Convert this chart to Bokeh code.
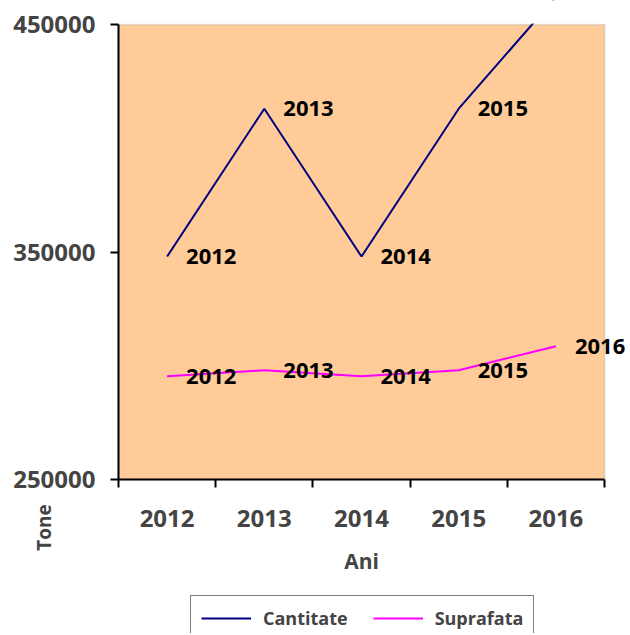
import math
from bokeh.plotting import figure
from bokeh.models import (ColumnDataSource, LabelSet, Label, Legend, LegendItem,
                          FixedTicker, Range1d, BoxAnnotation)
from bokeh.core.properties import value
from bokeh.embed import file_html
from bokeh.resources import INLINE

years = ["2012", "2013", "2014", "2015", "2016"]
cantitate = [348000, 413000, 348000, 413000, 462000]
suprafata = [295400, 298000, 295400, 298000, 308600]
y_ticks = [250000, 350000, 450000]
y_min, y_max = 250000, 450000

FONT = "Open Sans"

# layout (pixels)
W, H = 628, 633
BOX_L, BOX_R, BOX_T, BOX_B = 118, 604, 24, 479

n = len(years)
ppx = (BOX_R - BOX_L) / n
ppy = (BOX_B - BOX_T) / (y_max - y_min)
x_start = -BOX_L / ppx
x_end = (W - BOX_L) / ppx
y_start = y_min - (H - BOX_B) / ppy
y_end = y_max + BOX_T / ppy

xs = [i + 0.5 for i in range(n)]
src_c = ColumnDataSource(dict(x=xs, y=cantitate, t=years))
vis = [i for i, v in enumerate(cantitate) if v <= y_max]
src_cl = ColumnDataSource(dict(x=[xs[i] for i in vis], y=[cantitate[i] for i in vis],
                               t=[years[i] for i in vis]))
src_s = ColumnDataSource(dict(x=xs, y=suprafata, t=years))

p = figure(width=W, height=H, output_backend="svg", toolbar_location=None,
           x_range=Range1d(x_start, x_end), y_range=Range1d(y_start, y_end),
           min_border_left=0, min_border_right=0, min_border_top=0,
           min_border_bottom=0)
p.border_fill_color = "white"
p.background_fill_color = "white"
p.outline_line_color = None
p.grid.visible = False

# plot area
p.add_layout(BoxAnnotation(left=0, right=n, bottom=y_min, top=y_max,
                           fill_color="#FFCC99", fill_alpha=1.0,
                           line_color="#999999", line_width=2, level="underlay"))

r1 = p.line("x", "y", source=src_c, line_color="#000080", line_width=2)
r2 = p.line("x", "y", source=src_s, line_color="#FF00FF", line_width=2)

# the series is cut at the top of the plot area
p.add_layout(BoxAnnotation(bottom=y_max + 1 / ppy, top=y_end + 50 / ppy,
                           left=x_start - 50 / ppx, right=x_end + 50 / ppx,
                           fill_color="white", fill_alpha=1.0,
                           line_color="white", line_width=2, level="glyph"))

for s in (src_cl, src_s):
    p.add_layout(LabelSet(x="x", y="y", text="t", source=s, x_offset=19,
                          text_baseline="middle", text_align="left",
                          text_font=value(FONT), text_font_style="bold",
                          text_font_size="22px", text_color="black"))

# x axis
xa = p.xaxis[0]
xa.fixed_location = y_min
xa.bounds = (0, n)
xa.ticker = FixedTicker(ticks=xs, minor_ticks=list(range(n + 1)))
xa.major_label_overrides = {x: t for x, t in zip(xs, years)}
xa.major_tick_line_color = None
xa.major_tick_out = 0
xa.major_tick_in = 0
xa.minor_tick_out = 8
xa.minor_tick_in = 0
xa.minor_tick_line_color = "black"
xa.minor_tick_line_width = 2
xa.axis_line_color = "black"
xa.axis_line_width = 2
xa.major_label_standoff = 22
xa.major_label_text_font = FONT
xa.major_label_text_font_style = "bold"
xa.major_label_text_font_size = "24px"
xa.axis_label = "Ani"
xa.axis_label_text_font = FONT
xa.axis_label_text_font_style = "bold"
xa.axis_label_text_font_size = "21px"
xa.axis_label_standoff = 17

ya = p.yaxis[0]
ya.fixed_location = 0
ya.bounds = (y_min, y_max)
ya.ticker = FixedTicker(ticks=y_ticks, minor_ticks=[])
ya.major_label_overrides = {v: str(v) for v in y_ticks}
ya.major_tick_out = 8
ya.major_tick_in = 0
ya.major_tick_line_width = 2
ya.axis_line_width = 2
ya.major_label_standoff = 15
ya.major_label_text_font = FONT
ya.major_label_text_font_style = "bold"
ya.major_label_text_font_size = "24px"

p.add_layout(Label(x=43, y=H - 527, x_units="screen", y_units="screen", text="Tone",
                   angle=math.pi / 2, text_align="center", text_baseline="middle",
                   text_font=FONT, text_font_style="bold",
                   text_font_size="19px"))

legend = Legend(items=[LegendItem(label="Cantitate", renderers=[r1]),
                       LegendItem(label="Suprafata", renderers=[r2])],
                orientation="horizontal", location=(190, H - 641),
                border_line_color="black", border_line_width=1,
                label_text_font=FONT, label_text_font_style="bold",
                label_text_font_size="18px", glyph_width=50, label_standoff=12,
                spacing=25, padding=10, margin=0)
p.add_layout(legend)

open("out.html", "w").write(file_html(p, INLINE))
